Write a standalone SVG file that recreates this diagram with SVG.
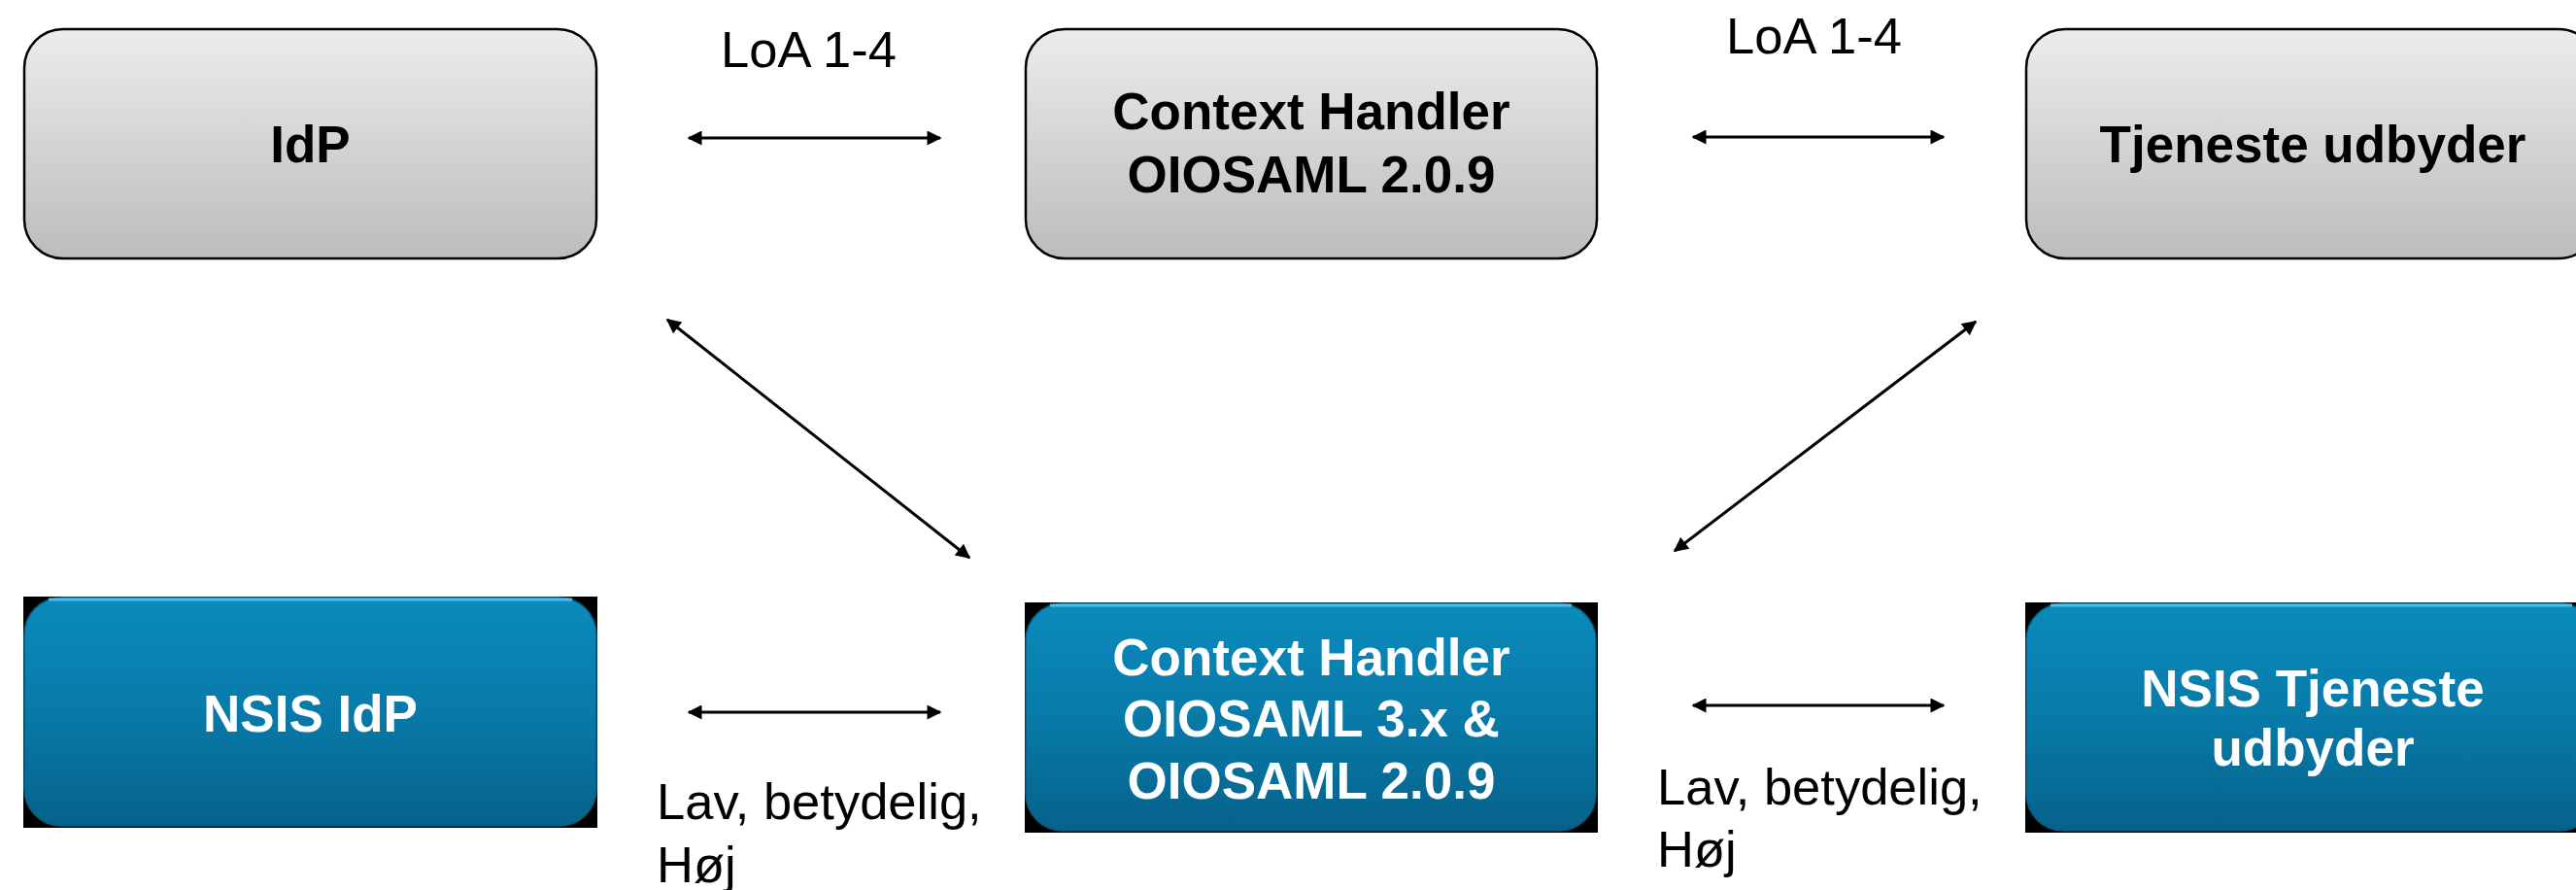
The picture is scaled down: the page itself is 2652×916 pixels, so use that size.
<svg xmlns="http://www.w3.org/2000/svg" width="2652" height="916" viewBox="0 0 2652 916">
<style>
.gray{fill:url(#gGray);stroke:#000;stroke-width:2.5}
.blue{fill:url(#gBlue);stroke:#0b5a7e;stroke-width:1.5}
.hl{fill:none;stroke:#45c3ec;stroke-width:3}
.bg{fill:#000}
.tb{font-family:"Liberation Sans",Arial,sans-serif;font-weight:bold;font-size:53px;text-anchor:middle}
.dark{fill:#000}
.white{fill:#fff}
.lbl{font-family:"Liberation Sans",Arial,sans-serif;font-size:52.5px;fill:#000}
.conn{stroke:#000;stroke-width:3;fill:none;marker-start:url(#ah);marker-end:url(#ah)}
</style>
<defs>
<linearGradient id="gGray" x1="0" y1="0" x2="0" y2="1">
<stop offset="0" stop-color="#ececec"/>
<stop offset="1" stop-color="#bcbcbc"/>
</linearGradient>
<linearGradient id="gBlue" x1="0" y1="0" x2="0" y2="1">
<stop offset="0" stop-color="#0a8bbd"/>
<stop offset="0.5" stop-color="#087aa8"/>
<stop offset="1" stop-color="#06628b"/>
</linearGradient>
<marker id="ah" viewBox="0 0 10 10" refX="9" refY="5" markerWidth="17" markerHeight="15" markerUnits="userSpaceOnUse" orient="auto-start-reverse">
<path d="M0,0 L10,5 L0,10 z" fill="#000"/>
</marker>
</defs>
<rect width="2652" height="916" fill="#fff"/>

<g id="connectors">
<line class="conn" x1="709" y1="142" x2="968" y2="142"/>
<line class="conn" x1="1743" y1="141" x2="2001" y2="141"/>
<line class="conn" x1="709" y1="733" x2="968" y2="733"/>
<line class="conn" x1="1743" y1="726" x2="2001" y2="726"/>
<line class="conn" x1="687" y1="329" x2="998" y2="574"/>
<line class="conn" x1="1724" y1="567" x2="2034" y2="331"/>
<text class="lbl" x="676" y="843">Lav, betydelig,</text>
<text class="lbl" x="676" y="908">Høj</text>
<text class="lbl" x="1706" y="828">Lav, betydelig,</text>
<text class="lbl" x="1706" y="892">Høj</text>
<text class="lbl" x="742" y="69">LoA 1-4</text>
<text class="lbl" x="1777" y="55">LoA 1-4</text>
</g>

<g id="idp">
<rect class="gray" x="25" y="30" width="589" height="236" rx="40" ry="40"/>
<text class="tb dark" x="319.5" y="167">IdP</text>
</g>

<g id="context-handler">
<rect class="gray" x="1056" y="30" width="588" height="236" rx="40" ry="40"/>
<text class="tb dark" x="1350" y="133">Context Handler</text>
<text class="tb dark" x="1350" y="198">OIOSAML 2.0.9</text>
</g>

<g id="tjeneste-udbyder">
<rect class="gray" x="2086" y="30" width="588" height="236" rx="40" ry="40"/>
<text class="tb dark" x="2381" y="167">Tjeneste udbyder</text>
</g>

<g id="nsis-idp">
<rect class="bg" x="24" y="614" width="591" height="238"/>
<rect class="blue" x="25" y="615" width="589" height="235" rx="38" ry="38"/>
<path class="hl" d="M50,617 H589"/>
<text class="tb white" x="319.5" y="753">NSIS IdP</text>
</g>

<g id="context-handler-nsis">
<rect class="bg" x="1055" y="620" width="590" height="237"/>
<rect class="blue" x="1056" y="621" width="587" height="234" rx="38" ry="38"/>
<path class="hl" d="M1081,623 H1618"/>
<text class="tb white" x="1350" y="695">Context Handler</text>
<text class="tb white" x="1350" y="758">OIOSAML 3.x &amp;</text>
<text class="tb white" x="1350" y="822">OIOSAML 2.0.9</text>
</g>

<g id="nsis-tjeneste-udbyder">
<rect class="bg" x="2085" y="620" width="590" height="237"/>
<rect class="blue" x="2086" y="621" width="587" height="234" rx="38" ry="38"/>
<path class="hl" d="M2111,623 H2648"/>
<text class="tb white" x="2381" y="727">NSIS Tjeneste</text>
<text class="tb white" x="2381" y="788">udbyder</text>
</g>
</svg>
